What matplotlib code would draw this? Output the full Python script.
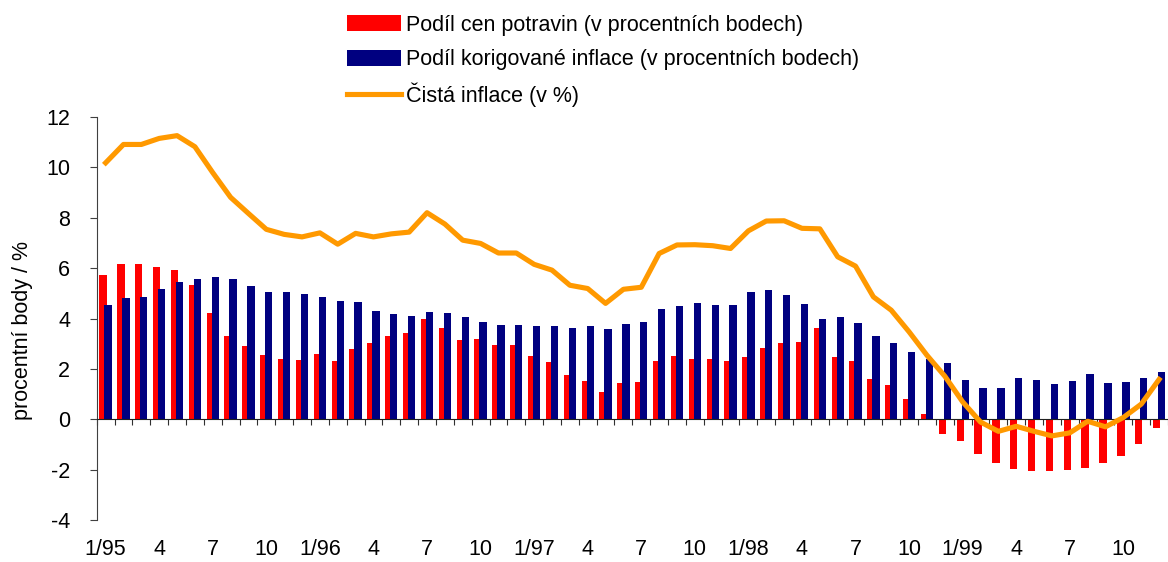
import matplotlib
matplotlib.use("Agg")
import matplotlib.pyplot as plt
import numpy as np

plt.rcParams['font.family'] = ['Liberation Sans', 'DejaVu Sans']
plt.rcParams['axes.unicode_minus'] = False

# monthly data 1/1995 - 12/1999
food_share = [5.72, 6.16, 6.15, 6.04, 5.92, 5.32, 4.22, 3.32, 2.90, 2.54, 2.38, 2.34,
              2.58, 2.33, 2.79, 3.02, 3.30, 3.42, 4.00, 3.62, 3.15, 3.18, 2.93, 2.93,
              2.50, 2.26, 1.76, 1.52, 1.10, 1.43, 1.46, 2.30, 2.50, 2.38, 2.40, 2.32,
              2.49, 2.81, 3.02, 3.07, 3.62, 2.46, 2.30, 1.59, 1.34, 0.79, 0.20, -0.57,
              -0.86, -1.36, -1.74, -1.97, -2.05, -2.05, -2.03, -1.92, -1.74, -1.46, -0.99, -0.34]
core_share = [4.53, 4.81, 4.86, 5.16, 5.43, 5.56, 5.63, 5.55, 5.31, 5.07, 5.05, 4.97,
              4.86, 4.70, 4.65, 4.29, 4.17, 4.09, 4.25, 4.21, 4.07, 3.88, 3.73, 3.76,
              3.72, 3.72, 3.63, 3.72, 3.59, 3.79, 3.85, 4.37, 4.49, 4.60, 4.54, 4.54,
              5.05, 5.14, 4.93, 4.57, 4.00, 4.04, 3.81, 3.31, 3.01, 2.67, 2.41, 2.25,
              1.55, 1.24, 1.25, 1.64, 1.54, 1.39, 1.51, 1.80, 1.43, 1.46, 1.62, 1.87]
net_inflation = [10.18, 10.91, 10.91, 11.15, 11.26, 10.82, 9.79, 8.81, 8.17, 7.54, 7.34, 7.24,
                 7.40, 6.95, 7.38, 7.24, 7.36, 7.43, 8.20, 7.75, 7.11, 6.98, 6.60, 6.60,
                 6.15, 5.92, 5.32, 5.19, 4.60, 5.16, 5.24, 6.58, 6.92, 6.93, 6.89, 6.78,
                 7.48, 7.87, 7.88, 7.58, 7.56, 6.45, 6.08, 4.86, 4.33, 3.47, 2.54, 1.71,
                 0.69, -0.11, -0.48, -0.28, -0.48, -0.66, -0.54, -0.08, -0.30, 0.07, 0.60, 1.58]
month_labels = ['1/95', '4', '7', '10', '1/96', '4', '7', '10', '1/97', '4', '7', '10',
                '1/98', '4', '7', '10', '1/99', '4', '7', '10']
legend_labels = ['Podíl cen potravin (v procentních bodech)',
                 'Podíl korigované inflace (v procentních bodech)',
                 'Čistá inflace (v %)']

fs = 15.5
x = np.arange(len(net_inflation))

fig = plt.figure(figsize=(11.68, 5.62), dpi=100)
ax = fig.add_axes([96.7 / 1168, 1 - 520 / 562, 1 - 96.7 / 1168, (520 - 117) / 562])

b1 = ax.bar(x - 0.14, food_share, width=0.41, color='#FF0000', zorder=2)
b2 = ax.bar(x + 0.14, core_share, width=0.41, color='#000080', zorder=2)
ln, = ax.plot(x, net_inflation, color='#FF9900', lw=3.7, zorder=3)

ax.set_xlim(-0.5, 59.15)
ax.set_ylim(-4, 12)

for s in ['top', 'right']:
    ax.spines[s].set_visible(False)
ax.spines['bottom'].set_position(('data', 0))
ax.spines['left'].set_color('#404040')
ax.spines['bottom'].set_color('#202020')

ax.set_yticks(range(-4, 13, 2))
ax.tick_params(axis='y', direction='out', length=5, width=0.8, pad=14,
               labelsize=fs, colors='#404040', labelcolor='black')
ax.set_xticks(np.arange(-0.5, 60, 1))
ax.set_xticklabels([])
ax.tick_params(axis='x', direction='out', length=4.5, width=0.8, colors='#303030')

# month labels sit below the plot area, not on the zero line
sec = ax.secondary_xaxis('bottom')
sec.set_xticks(np.arange(0, 60, 3), month_labels)
sec.tick_params(length=0, pad=14, labelsize=fs)
sec.spines['bottom'].set_visible(False)

ax.set_ylabel('procentní body / %', fontsize=fs)
ax.yaxis.set_label_coords(-0.0595, 0.47)

# one legend per row so the rows are evenly spaced like the original
for h, lab, yc in zip([b1, b2, ln], legend_labels, [25, 60, 94.5]):
    fig.legend([h], [lab], loc='center left', bbox_to_anchor=(347 / 1168, 1 - yc / 562),
               frameon=False, borderpad=0, borderaxespad=0, fontsize=fs,
               handlelength=2.5, handleheight=0.75, handletextpad=0.23)

fig.savefig('out.png', dpi=100)
